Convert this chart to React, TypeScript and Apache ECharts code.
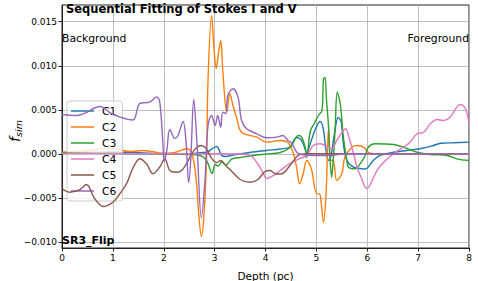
import React, { useEffect, useRef } from "react";
import * as echarts from "echarts";

const seriesNames = ["C1", "C2", "C3", "C4", "C5", "C6"];
const seriesColors = ["#1f77b4", "#ff7f0e", "#2ca02c", "#e377c2", "#8c564b", "#9467bd"];

const xTicks = [0, 1, 2, 3, 4, 5, 6, 7, 8];
const yTicks = [-0.01, -0.005, 0, 0.005, 0.01, 0.015];

const c1Depth = [0, 1.0, 1.98, 2.51, 2.77, 2.84, 2.91, 2.97, 3.04, 3.14, 3.22, 3.36, 3.69, 4.02, 4.29, 4.48, 4.61, 4.68, 4.74, 4.81, 4.9, 4.97, 5.07, 5.13, 5.19, 5.24, 5.29, 5.35, 5.43, 5.49, 5.53, 5.6, 5.73, 5.86, 5.96, 6.12, 6.25, 6.52, 6.78, 7.04, 7.3, 7.44, 7.7, 8.0];
const c1Value = [0.00015, 0.0002, 0.00003, -0.00002, 0.00015, 0.00015, 0.00038, 0.00066, 0.00083, -0.00019, -0.00031, -0.00014, 0.00015, 0.00038, 0.00055, 0.00077, 0.00185, 0.0017, 0.00114, 0.00015, 0.00151, 0.00265, 0.00367, 0.00299, 0.00038, -0.00076, -0.00019, 0.00208, 0.00413, 0.00356, 0.00117, -0.00076, -0.00152, -0.00167, -0.00173, -0.00076, -0.00019, 0.00018, 0.00038, 0.00057, 0.00094, 0.0012, 0.00125, 0.00132];

const c2Depth = [0, 0.35, 0.74, 1.0, 1.33, 1.59, 1.82, 1.98, 2.22, 2.45, 2.55, 2.63, 2.69, 2.74, 2.79, 2.84, 2.87, 2.94, 2.99, 3.03, 3.07, 3.12, 3.16, 3.24, 3.3, 3.36, 3.43, 3.53, 3.83, 4.02, 4.29, 4.44, 4.54, 4.61, 4.67, 4.74, 4.81, 4.86, 4.91, 5.01, 5.06, 5.09, 5.14, 5.19, 5.24, 5.28, 5.33, 5.4, 5.5, 5.56, 5.7, 5.8, 5.93, 6.02, 6.16, 8.0];
const c2Value = [0.00018, 0.00026, 0.00055, 0.0006, 0.00026, 0.00038, 0.0002, 0.00003, 0.00015, 0.00057, 0.00003, -0.00247, -0.00701, -0.0094, -0.00701, -0.00076, 0.00833, 0.01572, 0.01174, 0.00969, 0.01117, 0.01288, 0.00947, 0.00473, 0.00682, 0.00549, 0.00416, 0.00245, 0.00189, 0.00132, 0.00151, 0.00128, 0.00018, -0.00152, -0.00341, -0.00227, -0.00076, -0.0011, -0.0019, -0.00455, -0.00455, -0.00531, -0.00781, -0.00455, 0.00284, -0.00076, -0.00076, -0.00303, -0.00227, -0.00039, 0.00075, 0.00094, 0.00075, 0.00015, 0.0, 0.0];

const c3Depth = [0, 1.0, 1.98, 2.51, 2.71, 2.81, 2.87, 2.95, 3.01, 3.07, 3.14, 3.22, 3.34, 3.5, 3.75, 4.02, 4.29, 4.48, 4.65, 4.71, 4.78, 4.81, 4.88, 4.97, 5.04, 5.11, 5.14, 5.17, 5.2, 5.24, 5.27, 5.3, 5.33, 5.37, 5.41, 5.47, 5.53, 5.6, 5.63, 5.76, 5.86, 5.96, 6.02, 6.15, 6.52, 6.71, 6.98, 7.24, 7.57, 7.76, 8.0];
const c3Value = [0.00009, 0.00003, -0.00002, -0.00008, -0.00019, -0.00053, -0.0011, -0.00224, -0.00122, -0.00139, -0.00093, -0.00127, -0.00059, -0.00042, -0.00019, -0.00002, 0.00015, 0.00072, 0.00208, 0.00189, 0.00075, -0.00039, 0.00253, 0.00356, 0.00435, 0.00492, 0.00852, 0.00867, 0.00606, 0.00299, -0.00076, -0.00266, -0.00076, 0.00299, 0.007, 0.00568, 0.00189, -0.00076, -0.00152, -0.0017, -0.00114, -0.00019, 0.00075, 0.00114, 0.00106, 0.00075, 0.00018, -0.00008, -0.00019, -0.00057, -0.00076];

const c4Depth = [0, 2.71, 3.5, 3.7, 3.83, 3.96, 4.02, 4.15, 4.29, 4.48, 4.68, 4.81, 4.94, 5.07, 5.19, 5.3, 5.4, 5.49, 5.57, 5.66, 5.73, 5.8, 5.88, 5.99, 6.06, 6.19, 6.32, 6.52, 6.71, 6.84, 6.98, 7.11, 7.24, 7.37, 7.5, 7.63, 7.76, 7.83, 7.93, 8.0];
const c4Value = [0, 0, -0.00002, -0.00019, -0.00099, -0.00224, -0.00281, -0.00247, -0.0019, -0.0011, -0.00053, -0.00019, 0.00094, 0.00114, 0.00089, 0.0006, 0.00151, 0.00231, 0.00284, 0.00151, 0, -0.00152, -0.00269, -0.00394, -0.00349, -0.0019, -0.00099, 0.00003, 0.00075, 0.00132, 0.00227, 0.00245, 0.00341, 0.0039, 0.00378, 0.00416, 0.0053, 0.0056, 0.00511, 0.00344];

const c5Depth = [0, 0.15, 0.35, 0.48, 0.64, 0.81, 1.0, 1.14, 1.27, 1.4, 1.53, 1.66, 1.79, 1.92, 2.02, 2.12, 2.25, 2.35, 2.45, 2.55, 2.65, 2.74, 2.84, 2.93, 3.04, 3.12, 3.22, 3.36, 3.5, 3.7, 3.85, 3.99, 4.09, 4.21, 4.32, 4.48, 4.64, 4.81, 8.0];
const c5Value = [-0.00394, -0.00436, -0.00406, -0.00349, -0.00508, -0.00599, -0.0055, -0.00451, -0.00338, -0.00156, -0.00057, -0.00114, -0.00227, -0.00152, -0.00057, -0.0019, -0.00209, -0.0019, -0.0011, 0, 0.00075, 0.00094, 0.00057, -0.00042, -0.00099, -0.00076, -0.00133, -0.00213, -0.00292, -0.00323, -0.00292, -0.00201, -0.0019, -0.0023, -0.00227, -0.00133, -0.00019, 0, 0];

const c6Depth = [0, 0.29, 0.45, 0.74, 1.0, 1.39, 1.53, 1.72, 1.86, 1.92, 1.98, 2.01, 2.06, 2.12, 2.22, 2.28, 2.38, 2.44, 2.49, 2.53, 2.59, 2.65, 2.74, 2.81, 2.87, 2.94, 3.01, 3.06, 3.12, 3.16, 3.22, 3.26, 3.36, 3.46, 3.53, 3.63, 3.83, 4.02, 4.22, 4.34, 4.44, 4.52, 4.62, 4.78, 5.27, 5.57, 8.0];
const c6Value = [0.00447, 0.00435, 0.00461, 0.00538, 0.00447, 0.00384, 0.00572, 0.00586, 0.00645, 0.00594, 0.00151, -0.00088, 0.00038, 0.00276, 0.00174, 0.00208, 0.00367, 0.00117, -0.00326, -0.00076, 0.00617, 0.00151, -0.00724, -0.00303, 0.00322, 0.00435, 0.00322, 0.00435, 0.00302, 0.00473, 0.00458, 0.00663, 0.00739, 0.00643, 0.00378, 0.00284, 0.00227, 0.00182, 0.00189, 0.00208, 0.00151, 0.00117, 0.00015, -0.00014, -0.0002, 0, 0];

const depths = [c1Depth, c2Depth, c3Depth, c4Depth, c5Depth, c6Depth];
const values = [c1Value, c2Value, c3Value, c4Value, c5Value, c6Value];

const FONT = "DejaVu Sans";

export default function App() {
  const ref = useRef<HTMLDivElement>(null);
  useEffect(() => {
    if (!ref.current) return;
    const chart = echarts.init(ref.current, null, { renderer: "svg" });
    const fmt = (v: number) => {
      const s = Math.abs(v) < 1e-12 ? "0.000" : v.toFixed(3);
      return s.replace("-", "\u2212");
    };
    chart.setOption({
      animation: false,
      backgroundColor: "#ffffff",
      grid: {
        left: 62,
        right: 9,
        top: 5,
        bottom: 33,
        containLabel: false,
        outerBoundsMode: "none",
        show: true,
        borderColor: "#222",
        borderWidth: 1,
        backgroundColor: "transparent",
      },
      legend: {
        orient: "vertical",
        left: 67,
        top: 101,
        padding: [3, 6, 3, 4],
        itemGap: 2,
        itemWidth: 23,
        itemHeight: 1.5,
        icon: "rect",
        backgroundColor: "rgba(255,255,255,0.8)",
        borderColor: "#cccccc",
        borderWidth: 1,
        borderRadius: 3,
        textStyle: { fontFamily: FONT, fontSize: 10.8, color: "#000", lineHeight: 14, padding: [0, 0, 0, 3] },
        data: seriesNames,
      },
      xAxis: {
        type: "value",
        min: 0,
        max: 8,
        interval: 1,
        name: "Depth (pc)",
        nameLocation: "middle",
        nameGap: 22,
        nameTextStyle: { fontFamily: FONT, fontSize: 10.5, color: "#000" },
        axisLine: { show: true, onZero: false, lineStyle: { color: "#222", width: 1 } },
        axisTick: { show: true, length: 3.5, lineStyle: { color: "#222" } },
        axisLabel: { fontFamily: FONT, fontSize: 9, color: "#000", margin: 5 },
        splitLine: { show: true, lineStyle: { color: "#b0b0b0", width: 0.8 } },
      },
      yAxis: {
        type: "value",
        min: -0.0107,
        max: 0.0169,
        axisLine: { show: true, onZero: false, lineStyle: { color: "#222", width: 1 } },
        axisTick: { show: true, length: 3.5, lineStyle: { color: "#222" }, customValues: yTicks },
        axisLabel: { fontFamily: FONT, fontSize: 9, color: "#000", margin: 5, customValues: yTicks, formatter: fmt },
        splitLine: { show: true, lineStyle: { color: "#b0b0b0", width: 0.8 } },
      },
      series: seriesNames.map((name, k) => ({
        name,
        type: "line",
        data: depths[k].map((d, i) => [d, values[k][i]]),
        smooth: 0.35,
        symbol: "none",
        showSymbol: false,
        lineStyle: { color: seriesColors[k], width: 1.4 },
        itemStyle: { color: seriesColors[k] },
        z: 2 + k,
      })),
      graphic: [
        {
          type: "text",
          x: 15,
          y: 131,
          rotation: Math.PI / 2,
          z: 100,
          style: {
            text: "{f|f}{s|sim}",
            align: "center",
            verticalAlign: "middle",
            rich: {
              f: { fontFamily: FONT, fontStyle: "italic", fontSize: 14, fill: "#000", lineHeight: 16 },
              s: { fontFamily: FONT, fontStyle: "italic", fontSize: 9.5, fill: "#000", lineHeight: 16, verticalAlign: "bottom", padding: [4, 0, 0, 0] },
            },
          },
        },
        {
          type: "text",
          left: 66,
          top: 3,
          z: 100,
          style: { text: "Sequential Fitting of Stokes I and V", fontFamily: FONT, fontWeight: "bold", fontSize: 11.5, fill: "#000" },
        },
        {
          type: "text",
          left: 62,
          top: 33,
          z: 100,
          style: { text: "Background", fontFamily: FONT, fontSize: 10.8, fill: "#000" },
        },
        {
          type: "text",
          right: 9,
          top: 33,
          z: 100,
          style: { text: "Foreground", fontFamily: FONT, fontSize: 10.8, fill: "#000" },
        },
        {
          type: "text",
          left: 62,
          top: 235,
          z: 100,
          style: { text: "SR3_Flip", fontFamily: FONT, fontWeight: "bold", fontSize: 11, fill: "#000" },
        },
      ],
    });
    return () => chart.dispose();
  }, []);
  return <div ref={ref} style={{ width: 478, height: 281, position: "absolute", left: 0, top: 0 }} />;
}
